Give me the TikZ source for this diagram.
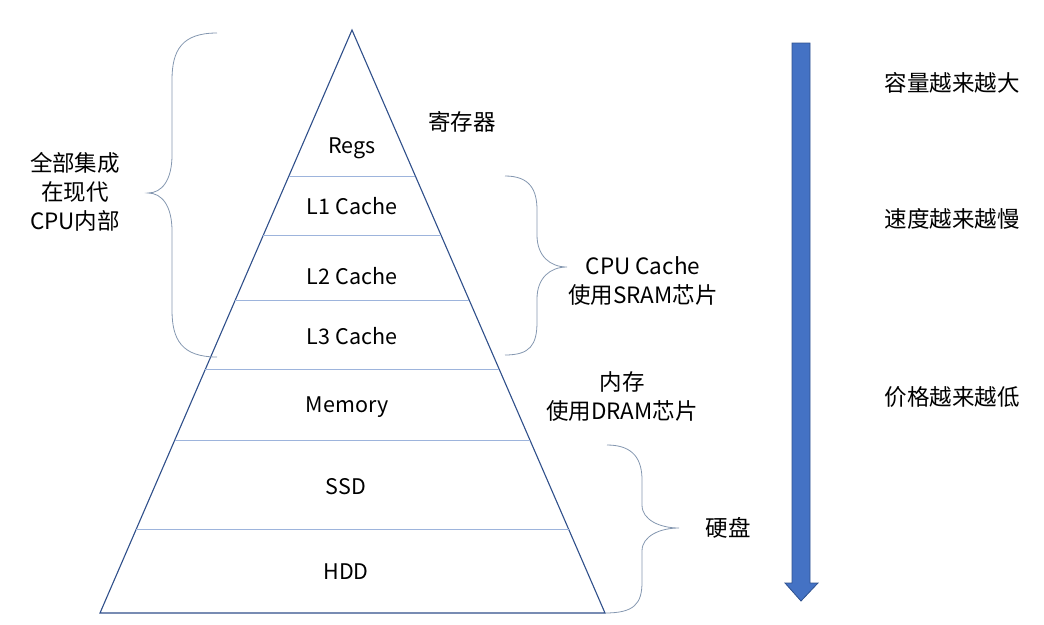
\documentclass[tikz,border=0pt]{standalone}
\usepackage{fontspec}
\setmainfont{Noto Sans CJK SC}
\usetikzlibrary{positioning}
\definecolor{edgeblue}{HTML}{2F4F8A}
\definecolor{layerblue}{HTML}{9DB4DC}
\definecolor{bracegray}{HTML}{8497B0}
\definecolor{arrowfill}{HTML}{4472C4}
\definecolor{arrowedge}{HTML}{2F528F}

\begin{document}
\begin{tikzpicture}[x=1pt,y=-1pt,
  lvl/.style={font=\fontsize{21.5}{24}\selectfont},
  note/.style={font=\fontsize{22.5}{29}\selectfont,align=center},
  brace/.style={draw=bracegray,line width=0.8pt}]
\useasboundingbox (0,0) rectangle (1044,624);
% pyramid
\draw[edgeblue,line width=1.1pt] (352,30) -- (100,613) -- (605,613) -- cycle;
\foreach \y in {176,235,300,369,440,529}
  \draw[layerblue,line width=0.9pt] ({352-0.4322*(\y-30)},\y) -- ({352+0.4339*(\y-30)},\y);
\node[lvl] (regs) at (352,148) {Regs};
\node[lvl] (l1) at (352,206) {L1 Cache};
\node[lvl] (l2) at (352,276) {L2 Cache};
\node[lvl] (l3) at (352,336) {L3 Cache};
\node[lvl] (mem) at (347,407) {Memory};
\node[lvl] (ssd) at (346,487) {SSD};
\node[lvl] (hdd) at (346,572) {HDD};
% braces
\draw[brace] (217,33) .. controls (182,33) and (172,50) .. (172,80) -- (172,155)
  .. controls (172,180) and (162,193) .. (148,193)
  .. controls (162,193) and (172,206) .. (172,231) -- (172,310)
  .. controls (172,340) and (182,357) .. (217,357);
\draw[brace] (505,176) .. controls (530,176) and (537,190) .. (537,210) -- (537,235)
  .. controls (537,256) and (550,267) .. (567,267)
  .. controls (550,267) and (537,278) .. (537,299) -- (537,322)
  .. controls (537,345) and (530,355) .. (505,355);
\draw[brace] (607,445) .. controls (634,445) and (642,460) .. (642,480) -- (642,505)
  .. controls (642,520) and (660,528) .. (679,528)
  .. controls (660,528) and (642,536) .. (642,551) -- (642,582)
  .. controls (642,604) and (634,613) .. (605,613);
\node[note] (inside) at (75,192) {全部集成\\在现代\\CPU内部};
\node[note] (regname) at (462,122) {寄存器};
\node[note] (sram) at (643,281) {CPU Cache\\使用SRAM芯片};
\node[note] (dram) at (622,397) {内存\\使用DRAM芯片};
\node[note] (disk) at (728,528) {硬盘};
% arrow
\draw[arrowedge,fill=arrowfill,line width=0.8pt] (792,43) -- (810,43) -- (810,583) -- (818,583)
  -- (801,601) -- (785,583) -- (792,583) -- cycle;
\node[note] (size) at (952,83) {容量越来越大};
\node[note] (speed) at (952,219) {速度越来越慢};
\node[note] (price) at (952,397) {价格越来越低};
\end{tikzpicture}
\end{document}
